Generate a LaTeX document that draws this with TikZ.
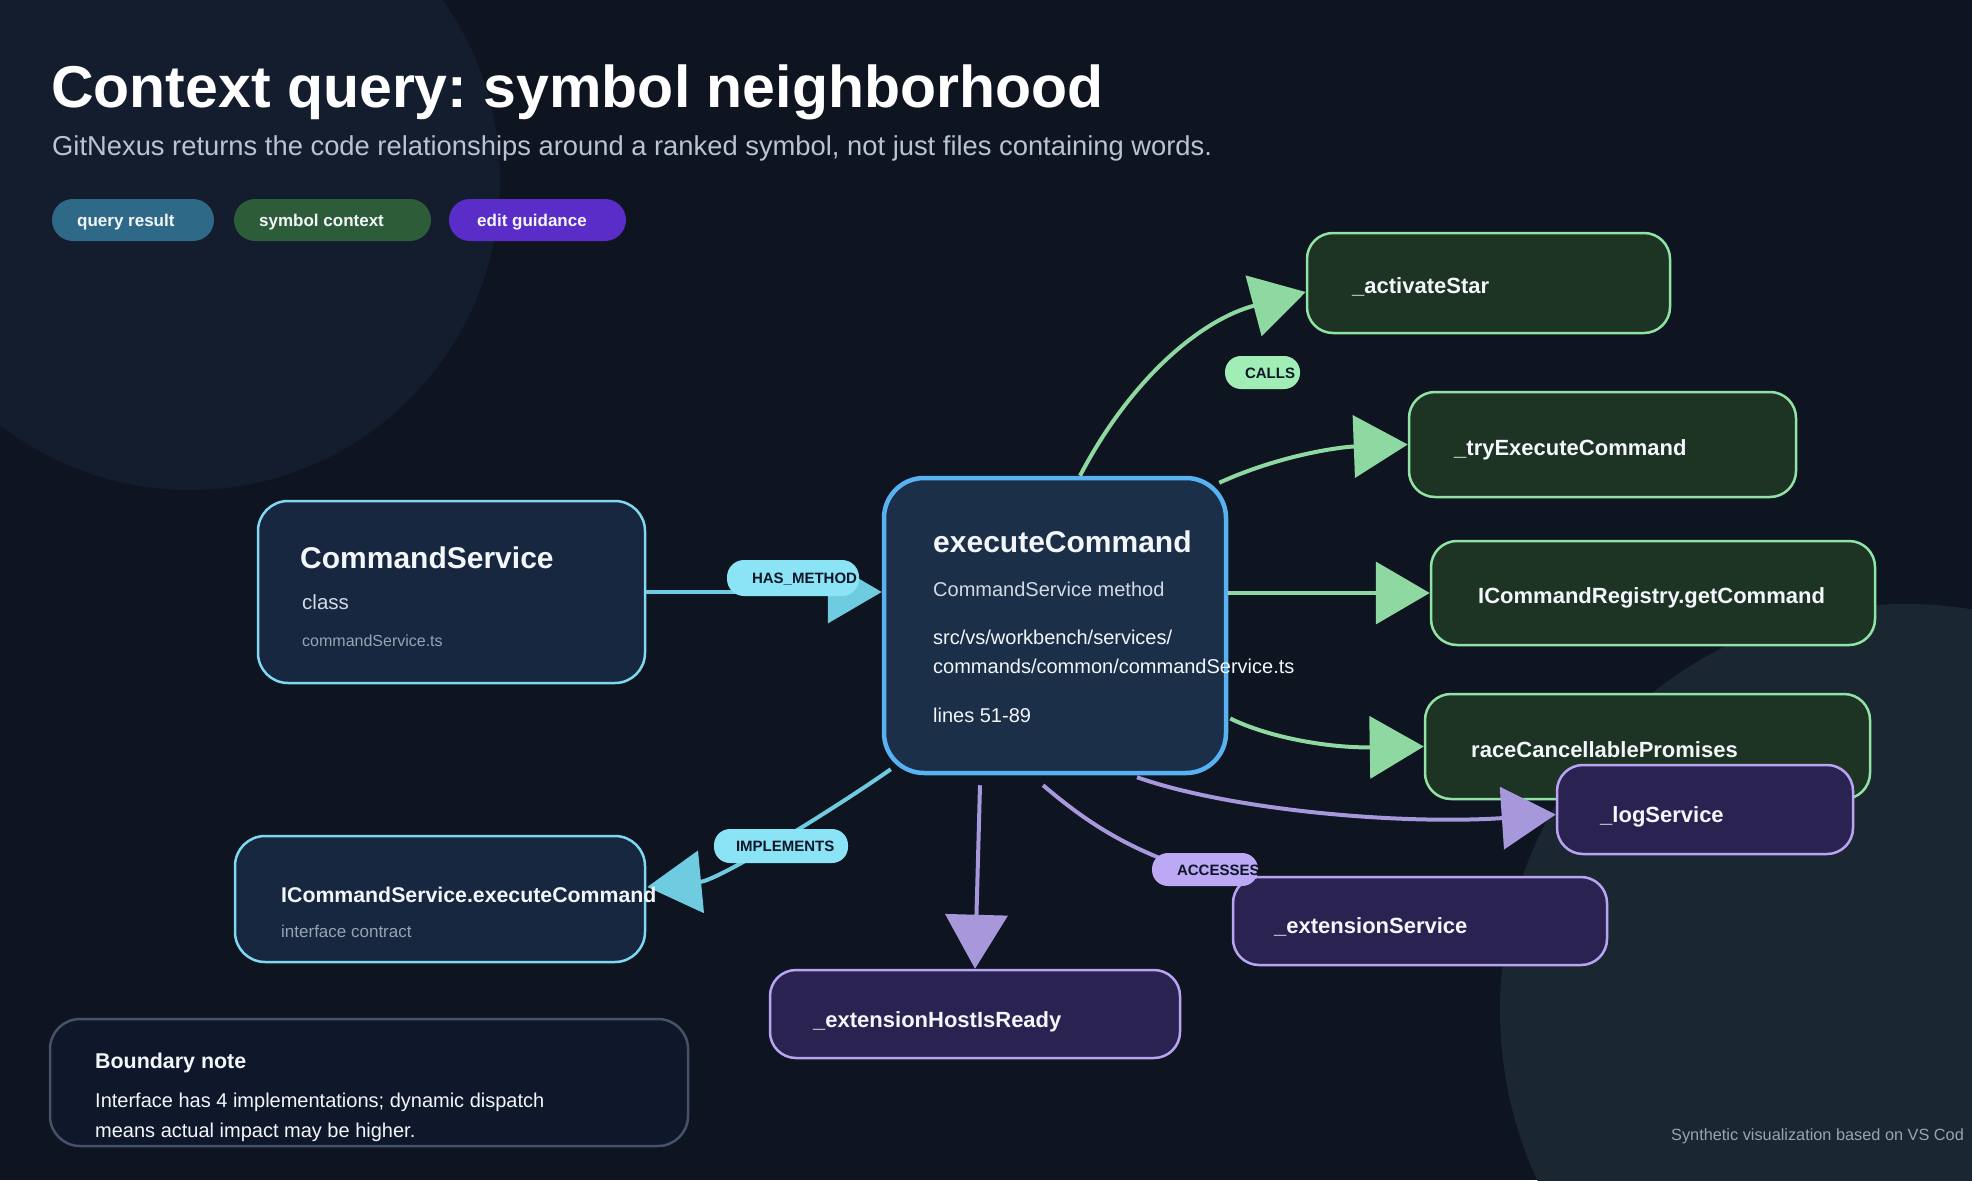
\documentclass[tikz,border=0pt]{standalone}
\usepackage{fontspec}
\setmainfont{Liberation Sans}
\usetikzlibrary{arrows.meta,calc}
\pgfdeclarelayer{bglayer}
\pgfdeclarelayer{under}
\pgfsetlayers{bglayer,under,main}
\definecolor{bgc}{HTML}{0F1421}
\definecolor{circA}{HTML}{131D2E}
\definecolor{circB}{HTML}{1A2731}
\definecolor{cfill}{HTML}{172740}
\definecolor{cline}{HTML}{7ED8F0}
\definecolor{ecfill}{HTML}{1C2F48}
\definecolor{ecline}{HTML}{58B1F0}
\definecolor{gfill}{HTML}{1D3324}
\definecolor{gline}{HTML}{90E3A5}
\definecolor{pfill}{HTML}{2A2352}
\definecolor{pline}{HTML}{B8A4F0}
\definecolor{notefill}{HTML}{0F182B}
\definecolor{noteline}{HTML}{465268}
\definecolor{cyanE}{HTML}{6FCBE0}
\definecolor{greenE}{HTML}{8ED9A2}
\definecolor{purpleE}{HTML}{A797DB}
\definecolor{cyanL}{HTML}{8BE3F6}
\definecolor{greenL}{HTML}{A0EEB5}
\definecolor{purpleL}{HTML}{BCA8F4}
\definecolor{ltext}{HTML}{0C1626}
\definecolor{qfill}{HTML}{2E6A87}
\definecolor{sfill}{HTML}{2D5C39}
\definecolor{efill}{HTML}{5A2DC8}
\definecolor{tmain}{HTML}{F3F6FA}
\definecolor{tsub}{HTML}{B9C3D2}
\definecolor{tmid}{HTML}{D3DAE4}
\definecolor{tdim}{HTML}{98A3B3}
\newcommand{\setfs}[1]{\fontsize{#1pt}{#1pt}\selectfont}
\frenchspacing
\begin{document}
\begin{tikzpicture}[x=1pt,y=-1pt,
  box/.style={draw, line width=2.5pt, inner sep=0pt, rounded corners=26pt},
  gbox/.style={box, fill=gfill, draw=gline},
  pbox/.style={box, fill=pfill, draw=pline},
  cbox/.style={box, fill=cfill, draw=cline, rounded corners=30pt},
  txt/.style={inner sep=0pt, anchor=base west, text=tmain},
  edge/.style={line width=4pt, -{Triangle[length=54pt,width=62pt]}},
  pill/.style={inner sep=0pt, rounded corners=16pt},
  ltxt/.style={inner sep=0pt, anchor=base west, text=ltext, font=\setfs{15}\bfseries},
  legtxt/.style={inner sep=0pt, anchor=base west, text=tmain, font=\setfs{17}\bfseries}
]
\useasboundingbox (0,0) rectangle (1972,1180);
\begin{pgfonlayer}{bglayer}
\fill[bgc] (0,0) rectangle (1972,1180);
\begin{scope}
\clip (0,0) rectangle (1972,1180);
\fill[circA] (190,180) circle (310);
\fill[circB] (1906,1010) circle (406);
\end{scope}
\end{pgfonlayer}

% title and legend
\node[txt, text=white, font=\setfs{59}\bfseries] (title) at (51,108) {Context query: symbol neighborhood};
\node[txt, text=tsub, font=\setfs{27.35}] (subtitle) at (52,155) {GitNexus returns the code relationships around a ranked symbol, not just files containing words.};
\node[pill, fill=qfill, minimum width=162, minimum height=42, rounded corners=21pt] (p1) at (133,220) {};
\node[legtxt] (p1t) at (77,226) {query result};
\node[pill, fill=sfill, minimum width=197, minimum height=42, rounded corners=21pt] (p2) at (332.5,220) {};
\node[legtxt] (p2t) at (259,226) {symbol context};
\node[pill, fill=efill, minimum width=177, minimum height=42, rounded corners=21pt] (p3) at (537.5,220) {};
\node[legtxt] (p3t) at (477,226) {edit guidance};

% boxes
\node[cbox, minimum width=387, minimum height=182] (cs) at (451.5,592) {};
\node[box, fill=ecfill, draw=ecline, line width=4.5pt, rounded corners=40pt, minimum width=342, minimum height=295] (ec) at (1055,625.5) {};
\node[gbox, minimum width=363, minimum height=100] (act) at (1488.5,283) {};
\node[gbox, minimum width=387, minimum height=105] (try) at (1602.5,444.5) {};
\node[gbox, minimum width=444, minimum height=104] (reg) at (1653,593) {};
\node[gbox, minimum width=445, minimum height=105] (race) at (1647.5,746.5) {};
\node[pbox, minimum width=296, minimum height=89] (log) at (1705,809.5) {};
\node[pbox, minimum width=374, minimum height=88] (ext) at (1420,921) {};
\node[pbox, minimum width=410, minimum height=88] (host) at (975,1014) {};
\node[cbox, minimum width=410, minimum height=126] (ics) at (440,899) {};
\node[box, fill=notefill, draw=noteline, rounded corners=30pt, minimum width=638, minimum height=127] (note) at (369,1082.5) {};

% connector hidden under boxes
\begin{pgfonlayer}{under}
\draw[line width=4pt, purpleE] ($(ec.south)+(-12,10)$) .. controls (1090,825) and (1140,860) .. ($(ext.north west)+(12,8)$);
\end{pgfonlayer}

% connectors
\draw[edge, cyanE] (cs.east) -- (cs.east -| ec.west);
\draw[edge, greenE] ($(ec.north)+(25,0)$) .. controls (1130,380) and (1200,320) .. ($(act.west)+(0,9)$);
\draw[edge, greenE] ($(ec.north east)+(-9,7)$) .. controls (1280,455) and (1340,447) .. (try.west);
\draw[edge, greenE] (ec.east |- reg.west) -- (reg.west);
\draw[edge, greenE] ($(ec.east)+(2,93)$) .. controls (1270,738) and (1330,748) .. (race.west);
\draw[edge, purpleE] ($(ec.south)+(82,2)$) .. controls (1230,810) and (1400,825) .. ($(log.west)+(0,5)$);
\draw[edge, purpleE] ($(ec.south)+(-75,10)$) -- (host.north);
\draw[edge, cyanE] ($(ec.south west)+(9,-6)$) .. controls (840,805) and (720,880) .. ($(ics.east)+(1,-12)$);

% box texts
\node[txt, font=\setfs{30}\bfseries] (cs-t1) at (300,568) {CommandService};
\node[txt, text=tmid, font=\setfs{20.5}] (cs-t2) at (302,609) {class};
\node[txt, text=tdim, font=\setfs{16}] (cs-t3) at (302,646) {commandService.ts};

\node[txt, font=\setfs{30}\bfseries] (ec-t1) at (933,552) {executeCommand};
\node[txt, text=tmid, font=\setfs{20}] (ec-t2) at (933,596) {CommandService method};
\node[txt, text=tmain, font=\setfs{20}] (ec-t3) at (933,644) {src/vs/workbench/services/};
\node[txt, text=tmain, font=\setfs{20}] (ec-t4) at (933,673) {commands/common/commandService.ts};
\node[txt, text=tmain, font=\setfs{20}] (ec-t5) at (933,722) {lines 51-89};

\node[txt, font=\setfs{22}\bfseries] (act-t) at (1352,293) {\_activateStar};
\node[txt, font=\setfs{22}\bfseries] (try-t) at (1454,455) {\_tryExecuteCommand};
\node[txt, font=\setfs{22}\bfseries] (reg-t) at (1478,603) {ICommandRegistry.getCommand};
\node[txt, font=\setfs{22}\bfseries] (race-t) at (1471,757) {raceCancellablePromises};
\node[txt, font=\setfs{22}\bfseries] (log-t) at (1600,822) {\_logService};
\node[txt, font=\setfs{22}\bfseries] (ext-t) at (1274,933) {\_extensionService};
\node[txt, font=\setfs{22}\bfseries] (host-t) at (813,1027) {\_extensionHostIsReady};

\node[txt, font=\setfs{21.3}\bfseries] (ics-t1) at (281,902) {ICommandService.executeCommand};
\node[txt, text=tdim, font=\setfs{17}] (ics-t2) at (281,937) {interface contract};

\node[txt, font=\setfs{21.4}\bfseries] (note-t1) at (95,1068) {Boundary note};
\node[txt, text=tmain, font=\setfs{20}] (note-t2) at (95,1107) {Interface has 4 implementations; dynamic dispatch};
\node[txt, text=tmain, font=\setfs{20}] (note-t3) at (95,1137) {means actual impact may be higher.};

\node[txt, text=tdim, font=\setfs{16.3}] (footer) at (1671,1140) {Synthetic visualization based on VS Cod};

% edge labels
\node[pill, fill=cyanL, minimum width=132, minimum height=36, rounded corners=17pt] (l-has) at (793,578) {};
\node[ltxt] (l-has-t) at ($(l-has.west)+(25,5.5)$) {HAS\_METHOD};
\node[pill, fill=greenL, minimum width=75, minimum height=33, rounded corners=16pt] (l-calls) at (1262.5,372.5) {};
\node[ltxt] (l-calls-t) at ($(l-calls.west)+(20,5.5)$) {CALLS};
\node[pill, fill=cyanL, minimum width=134, minimum height=34, rounded corners=16pt] (l-impl) at (781,846) {};
\node[ltxt] (l-impl-t) at ($(l-impl.west)+(22,5.5)$) {IMPLEMENTS};
\node[pill, fill=purpleL, minimum width=106, minimum height=33, rounded corners=16pt] (l-acc) at (1205,869.5) {};
\node[ltxt] (l-acc-t) at ($(l-acc.west)+(25,5.5)$) {ACCESSES};
\end{tikzpicture}
\end{document}
